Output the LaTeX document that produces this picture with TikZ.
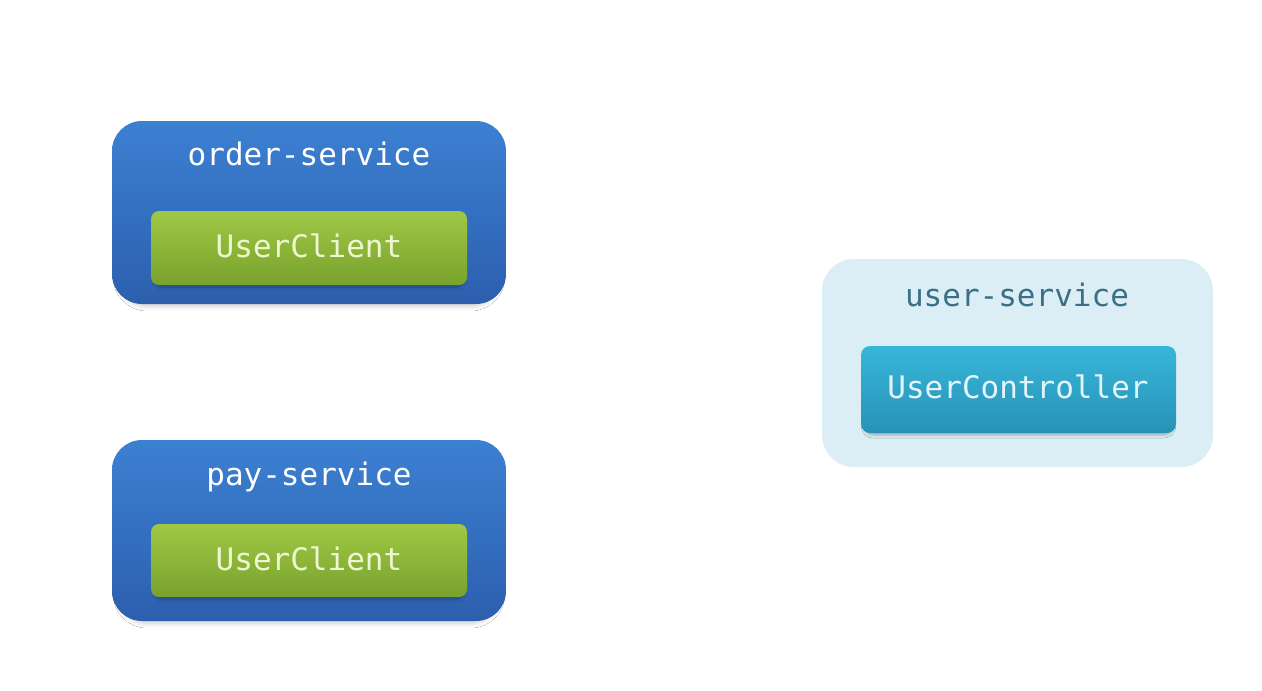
\documentclass[tikz,border=0pt]{standalone}
\usepackage{fontspec}
\setmonofont{DejaVu Sans Mono}
\usetikzlibrary{shadows.blur}
\definecolor{svcTop}{HTML}{3C80D2}
\definecolor{svcBot}{HTML}{2C5FAE}
\definecolor{grnTop}{HTML}{A0C846}
\definecolor{grnBot}{HTML}{78A22C}
\definecolor{cyTop}{HTML}{36B6DA}
\definecolor{cyBot}{HTML}{2892B6}
\definecolor{usrBg}{HTML}{DCEEF5}
\definecolor{usrTxt}{HTML}{3A6F86}
\definecolor{grnTxt}{HTML}{EEF7D2}
\definecolor{cyTxt}{HTML}{E4F5FA}
\tikzset{
  boxbase/.style={draw=none, inner sep=0pt, outer sep=0pt},
  svcbox/.style={boxbase, rounded corners=30pt, top color=svcTop, bottom color=svcBot,
    minimum width=394pt,
    blur shadow={shadow xshift=0pt, shadow yshift=-5pt, shadow blur radius=5pt,
      shadow blur steps=8, shadow opacity=20, shadow scale=0.97}},
  clientbox/.style={boxbase, rounded corners=8pt, top color=grnTop, bottom color=grnBot,
    minimum width=316pt,
    blur shadow={shadow xshift=0pt, shadow yshift=-3pt, shadow blur radius=3pt,
      shadow blur steps=5, shadow opacity=28, shadow scale=0.98}},
  ctrlbox/.style={boxbase, rounded corners=9pt, top color=cyTop, bottom color=cyBot,
    minimum width=315pt, minimum height=87pt,
    blur shadow={shadow xshift=0pt, shadow yshift=-3pt, shadow blur radius=3pt,
      shadow blur steps=5, shadow opacity=28, shadow scale=0.98}},
  usrbox/.style={boxbase, rounded corners=32pt, fill=usrBg,
    minimum width=391pt, minimum height=208pt},
  lbl/.style={font=\ttfamily\fontsize{31}{36}\selectfont, anchor=base, inner sep=0pt}
}
\begin{document}
\begin{tikzpicture}[x=1pt, y=-1pt]
\useasboundingbox (0,0) rectangle (1262,691);
\fill[white] (0,0) rectangle (1262,691);
% order-service
\node[svcbox, minimum height=183pt] (ord) at (309,212.5) {};
\node[lbl, text=white] (ordT) at (309,165) {order-service};
\node[clientbox, minimum height=74pt] (ordC) at (309,248) {};
\node[lbl, text=grnTxt] (ordCT) at (309,257) {UserClient};
% pay-service
\node[svcbox, minimum height=181pt] (pay) at (309,530.5) {};
\node[lbl, text=white] (payT) at (309,485) {pay-service};
\node[clientbox, minimum height=73pt] (payC) at (309,560.5) {};
\node[lbl, text=grnTxt] (payCT) at (309,570) {UserClient};
% user-service
\node[usrbox] (usr) at (1017.5,363) {};
\node[lbl, text=usrTxt] (usrT) at (1017,306) {user-service};
\node[ctrlbox] (usrC) at (1018.5,389.5) {};
\node[lbl, text=cyTxt] (usrCT) at (1018,398) {UserController};
\end{tikzpicture}
\end{document}
